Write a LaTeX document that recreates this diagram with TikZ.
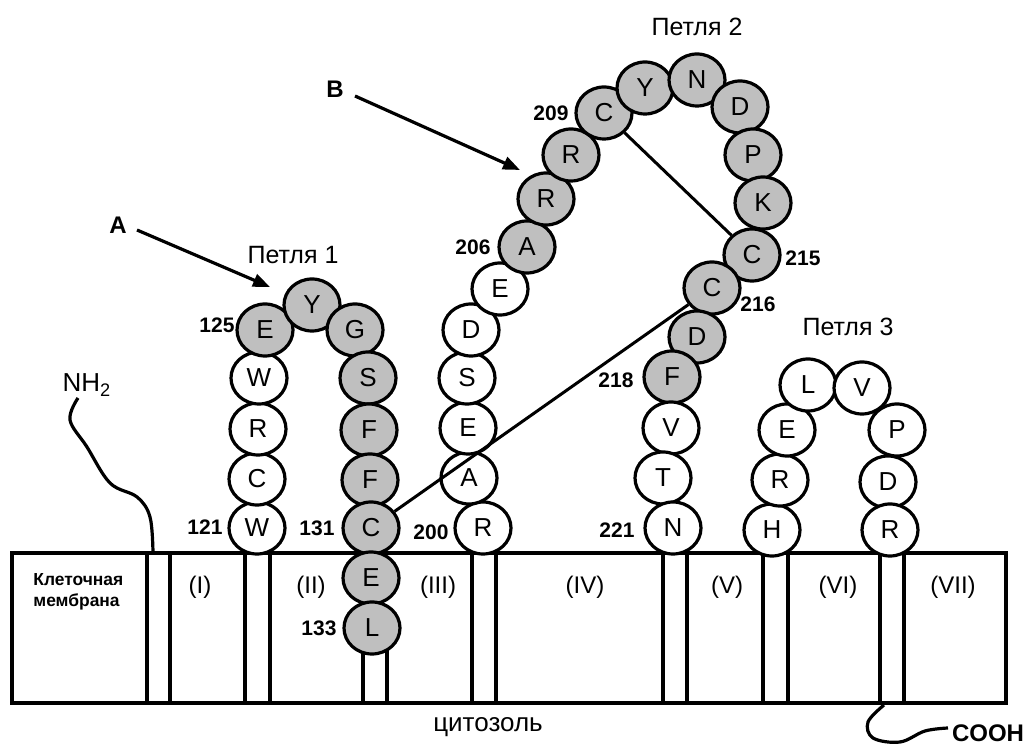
\documentclass[tikz,border=0pt]{standalone}
\usepackage{fontspec}
\setmainfont{Liberation Sans}
\usetikzlibrary{arrows.meta,shapes.geometric}
\begin{document}
\begin{tikzpicture}[x=0.5pt,y=-0.5pt,
  res/.style={ellipse,draw,line width=1.6pt,minimum width=28pt,minimum height=26pt,inner sep=0pt,fill=white,font=\fontsize{13}{13}\selectfont},
  gres/.style={res,fill=gray!50},
  num/.style={font=\bfseries\fontsize{10.5}{10.5}\selectfont,inner sep=0pt},
  lbl/.style={font=\fontsize{12.5}{12.5}\selectfont,inner sep=0pt},
  reg/.style={font=\fontsize{12}{12}\selectfont,inner sep=0pt},
  mem/.style={line width=1.6pt},
  bond/.style={line width=1.5pt},
  pointer/.style={line width=1.6pt,-{Triangle[length=8.5pt,width=6.5pt]}}]
\useasboundingbox (0,0) rectangle (1029,747);
% membrane
\draw[mem] (12,553) rectangle (1006,703);
\foreach \xa/\xb in {147/170,245/270,472/496,663/687,763/788,880/904}{
  \draw[mem] (\xa,553) -- (\xa,703);
  \draw[mem] (\xb,553) -- (\xb,703);
}
\draw[mem] (363,650) -- (363,703);
\draw[mem] (387,650) -- (387,703);
% region labels
\node[reg] (r1) at (200,587) {(I)};
\node[reg] (r2) at (311,587) {(II)};
\node[reg] (r3) at (438,587) {(III)};
\node[reg] (r4) at (585,587) {(IV)};
\node[reg] (r5) at (727,587) {(V)};
\node[reg] (r6) at (838,587) {(VI)};
\node[reg] (r7) at (953,587) {(VII)};
\node[font=\bfseries\fontsize{8.7}{10.5}\selectfont,align=left,inner sep=0pt,anchor=north west] (memlbl) at (33,573) {Клеточная\\мембрана};
\node[font=\fontsize{13}{13}\selectfont,inner sep=0pt] (cyto) at (488,727) {цитозоль};
% N- and C-termini
\node[font=\fontsize{13}{13}\selectfont,inner sep=0pt] (nh) at (87,385) {NH\textsubscript{2}};
\draw[mem] plot[smooth,tension=0.6] coordinates {(78,398) (70,420) (87,447) (110,483) (137,497) (150,517) (153,553)};
\node[font=\bfseries\fontsize{12}{12}\selectfont,inner sep=0pt] (cooh) at (988,733) {COOH};
\draw[mem] plot[smooth,tension=0.6] coordinates {(884,705) (868,722) (873,738) (900,742) (925,731) (948,728)};
% loop 1
\node[res] (w121) at (257,528) {W};
\node[res] (c1) at (257,479) {C};
\node[res] (r1a) at (258,429) {R};
\node[res] (w1) at (259,378) {W};
\node[gres] (e125) at (265,330) {E};
\node[gres] (y1) at (312,305) {Y};
\node[gres] (g1) at (355,330) {G};
\node[gres] (s1) at (368,378) {S};
\node[gres] (f1) at (369,430) {F};
\node[gres] (f2) at (370,480) {F};
\node[gres] (c131) at (371,528) {C};
\node[gres] (e132) at (371,578) {E};
\node[gres] (l133) at (372,628) {L};
% loop 2
\node[res] (r200) at (483,528) {R};
\node[res] (a201) at (469,478) {A};
\node[res] (e202) at (468,428) {E};
\node[res] (s203) at (467,378) {S};
\node[res] (d204) at (471,330) {D};
\node[res] (e205) at (500,289) {E};
\node[gres] (a206) at (527,247) {A};
\node[gres] (r207) at (546,199) {R};
\node[gres] (r208) at (571,155) {R};
\node[gres] (c209) at (604,113) {C};
\node[gres] (y210) at (645,88) {Y};
\node[gres] (n211) at (697,80) {N};
\node[gres] (d212) at (740,107) {D};
\node[gres] (p213) at (753,155) {P};
\node[gres] (k214) at (763,203) {K};
\node[gres] (c215) at (752,255) {C};
\node[gres] (c216) at (712,288) {C};
\node[gres] (d217) at (697,337) {D};
\node[gres] (f218) at (672,377) {F};
\node[res] (v219) at (671,428) {V};
\node[res] (t220) at (663,478) {T};
\node[res] (n221) at (673,528) {N};
% loop 3
\node[res] (h3) at (772,530) {H};
\node[res] (r3a) at (780,480) {R};
\node[res] (e3) at (787,430) {E};
\node[res] (l3) at (808,385) {L};
\node[res] (v3) at (862,388) {V};
\node[res] (p3) at (897,430) {P};
\node[res] (d3) at (888,482) {D};
\node[res] (r3b) at (890,530) {R};
% disulfide bonds
\draw[bond] (c209) -- (c215);
\draw[bond] (c216) -- (c131);
% numbers
\node[num] at (205,527) {121};
\node[num] at (317,528) {131};
\node[num] at (319,628) {133};
\node[num] at (431,532) {200};
\node[num] at (217,325) {125};
\node[num] at (473,247) {206};
\node[num] at (551,113) {209};
\node[num] at (803,258) {215};
\node[num] at (758,304) {216};
\node[num] at (616,380) {218};
\node[num] at (617,530) {221};
% loop labels
\node[lbl] (p1) at (293,255) {Петля 1};
\node[lbl] (p2) at (697,27) {Петля 2};
\node[lbl] (p3lbl) at (848,327) {Петля 3};
% pointers
\node[font=\bfseries\fontsize{12}{12}\selectfont,inner sep=0pt] (la) at (118,225) {A};
\node[font=\bfseries\fontsize{12}{12}\selectfont,inner sep=0pt] (lb) at (335,89) {B};
\coordinate (as) at (137,230);
\coordinate (ae) at (270,287);
\coordinate (bs) at (355,96);
\coordinate (be) at (520,170);
\draw[pointer] (as) -- (ae);
\draw[pointer] (bs) -- (be);
\end{tikzpicture}
\end{document}
